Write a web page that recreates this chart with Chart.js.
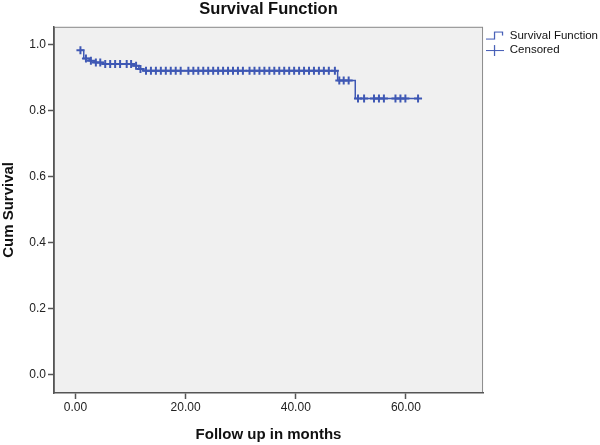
<!DOCTYPE html>
<html>
<head>
<meta charset="utf-8">
<script src="https://cdn.jsdelivr.net/npm/chart.js@4.4.1/dist/chart.umd.min.js"></script>
<style>
  html, body { margin: 0; padding: 0; background: #fff; }
  #wrap { width: 600px; height: 445px; position: relative; }
</style>
</head>
<body>
<div id="wrap"><canvas id="kmChart" width="600" height="445"></canvas></div>
<script>
  // Kaplan-Meier steps: time of each event and survival right after it
  const eventTimes = [0.9, 1.5, 2.5, 3.4, 5.0, 10.5, 11.5, 12.4, 47.6, 50.8];
  const survival = [0.984, 0.959, 0.952, 0.947, 0.942, 0.937, 0.927, 0.922, 0.892, 0.838];

  // censored follow-up times (months)
  const censoredTimes = [
    0.9, 1.9, 2.8, 3.7, 4.5, 5.4, 6.3, 7.2, 8.1, 9.3, 10.1, 11.0, 11.8, 12.8,
    13.7, 14.6, 15.5, 16.4, 17.3, 18.2, 19.1, 20.5, 21.4, 22.3, 23.2, 24.1, 25.0,
    25.9, 26.8, 27.7, 28.6, 29.5, 30.4, 31.6, 32.5, 33.4, 34.3, 35.2, 36.1, 37.0,
    37.9, 38.8, 39.7, 40.6, 41.5, 42.4, 43.3, 44.2, 45.1, 46.0, 47.1,
    47.9, 48.7, 49.6,
    51.3, 52.4, 54.2, 55.1, 56.0, 58.1, 59.0, 59.9, 62.2
  ];

  const xTickValues = [0, 20, 40, 60];
  const yTickValues = [0, 0.2, 0.4, 0.6, 0.8, 1.0];

  const blue = '#3f58b4';

  function survivalAt(t) {
    let s = survival[0];
    for (let i = 0; i < eventTimes.length; i++) {
      if (eventTimes[i] <= t) s = survival[i];
    }
    return s;
  }

  const stepPoints = eventTimes.map((t, i) => ({ x: t, y: survival[i] }));
  const lastTime = censoredTimes[censoredTimes.length - 1];
  stepPoints.push({ x: lastTime, y: survivalAt(lastTime) });

  const censoredPoints = censoredTimes.map(t => ({ x: t, y: survivalAt(t) }));

  // little legend icons
  function makeIcon(kind) {
    const c = document.createElement('canvas');
    c.width = 18;
    c.height = 12;
    const g = c.getContext('2d');
    g.strokeStyle = blue;
    g.lineWidth = 1.2;
    g.beginPath();
    if (kind === 'step') {
      g.moveTo(0, 9.5); g.lineTo(8.5, 9.5); g.lineTo(8.5, 2.5); g.lineTo(16.5, 2.5); g.lineTo(16.5, 6);
    } else {
      g.moveTo(0, 6.5); g.lineTo(18, 6.5);
      g.moveTo(8.5, 1); g.lineTo(8.5, 12);
    }
    g.stroke();
    return c;
  }
  const stepIcon = makeIcon('step');
  const crossIcon = makeIcon('cross');

  const plotBackground = {
    id: 'plotBackground',
    beforeDraw(chart) {
      const a = chart.chartArea;
      const ctx = chart.ctx;
      ctx.save();
      ctx.fillStyle = '#f0f0f0';
      ctx.fillRect(a.left, a.top, a.right - a.left, a.bottom - a.top);
      ctx.strokeStyle = '#8a8a8a';
      ctx.lineWidth = 1;
      ctx.strokeRect(a.left + 0.5, a.top + 0.5, a.right - a.left - 1, a.bottom - a.top - 1);
      ctx.restore();
    }
  };

  const tickFont = { family: 'Liberation Sans, Arial, sans-serif', size: 12 };
  const titleFont = { family: 'Liberation Sans, Arial, sans-serif', size: 15, weight: 'bold' };

  new Chart(document.getElementById('kmChart').getContext('2d'), {
    type: 'line',
    data: {
      datasets: [
        {
          label: 'Survival Function',
          data: stepPoints,
          stepped: true,
          borderColor: blue,
          borderWidth: 1.5,
          pointRadius: 0,
          fill: false
        },
        {
          label: 'Censored',
          data: censoredPoints,
          showLine: false,
          pointStyle: 'cross',
          pointRadius: 4,
          pointBorderWidth: 2,
          pointBorderColor: blue,
          borderColor: blue
        }
      ]
    },
    options: {
      responsive: false,
      animation: false,
      layout: { padding: { top: 0, right: -8, bottom: 0, left: 0 } },
      plugins: {
        title: {
          display: true,
          text: 'Survival Function',
          fullSize: false,
          color: '#111',
          font: { family: 'Liberation Sans, Arial, sans-serif', size: 16.5, weight: 'bold' },
          padding: { top: 0, bottom: 7 }
        },
        legend: {
          position: 'right',
          align: 'start',
          fullSize: false,
          labels: {
            usePointStyle: true,
            pointStyleWidth: 18,
            padding: 3,
            color: '#111',
            font: { family: 'Liberation Sans, Arial, sans-serif', size: 11.5 },
            generateLabels(chart) {
              return chart.data.datasets.map((ds, i) => ({
                text: ds.label,
                pointStyle: i === 0 ? stepIcon : crossIcon,
                fillStyle: blue,
                strokeStyle: blue,
                lineWidth: 0,
                fontColor: '#111',
                datasetIndex: i,
                hidden: false
              }));
            }
          }
        },
        tooltip: { enabled: false }
      },
      scales: {
        x: {
          type: 'linear',
          min: -3.9,
          max: 74.0,
          afterBuildTicks(scale) { scale.ticks = xTickValues.map(v => ({ value: v })); },
          afterFit(scale) { scale.height = 52; },
          grid: { drawOnChartArea: false, tickLength: 6, color: '#555', tickWidth: 1.5 },
          border: { color: '#555', width: 1.5 },
          ticks: {
            color: '#222',
            font: tickFont,
            padding: 1,
            maxRotation: 0,
            callback: v => Number(v).toFixed(2)
          },
          title: {
            display: true,
            text: 'Follow up in months',
            color: '#111',
            font: titleFont,
            padding: { top: 0, bottom: 1 }
          }
        },
        y: {
          type: 'linear',
          min: -0.055,
          max: 1.055,
          afterBuildTicks(scale) { scale.ticks = yTickValues.map(v => ({ value: v })); },
          afterFit(scale) { scale.width = 54; },
          grid: { drawOnChartArea: false, tickLength: 6, color: '#555', tickWidth: 1.5 },
          border: { color: '#555', width: 1.5 },
          ticks: {
            color: '#222',
            font: tickFont,
            padding: 2,
            callback: v => Number(v).toFixed(1)
          },
          title: {
            display: true,
            text: 'Cum Survival',
            color: '#111',
            font: titleFont,
            padding: { top: 0, bottom: 0 }
          }
        }
      }
    },
    plugins: [plotBackground]
  });
</script>
</body>
</html>
